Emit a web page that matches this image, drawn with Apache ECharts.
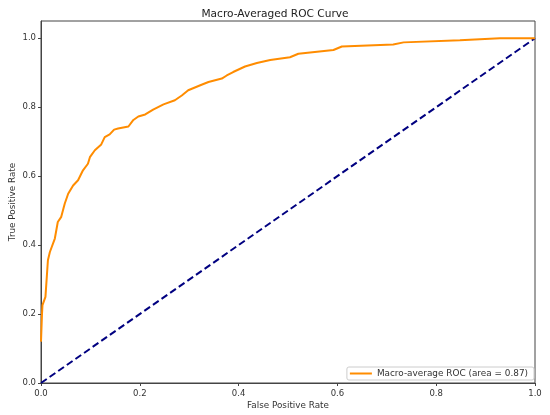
<!DOCTYPE html>
<html>
<head>
<meta charset="utf-8">
<script src="https://cdn.jsdelivr.net/npm/echarts@6/dist/echarts.min.js"></script>
<style>html,body{margin:0;padding:0;background:#fff}#c{width:550px;height:415px}</style>
</head>
<body>
<div id="c"></div>
<script>
var fpr = [0, 0.002, 0.003, 0.009, 0.014, 0.018, 0.028, 0.034, 0.041, 0.048, 0.055, 0.065, 0.075, 0.085, 0.095, 0.099, 0.109, 0.122, 0.129, 0.139, 0.148, 0.156, 0.177, 0.187, 0.197, 0.211, 0.227, 0.248, 0.271, 0.285, 0.298, 0.325, 0.339, 0.366, 0.376, 0.389, 0.413, 0.437, 0.464, 0.504, 0.521, 0.592, 0.609, 0.713, 0.734, 0.848, 0.929, 1.0];
var tpr = [0.12, 0.2, 0.226, 0.25, 0.356, 0.38, 0.419, 0.467, 0.482, 0.52, 0.549, 0.573, 0.588, 0.617, 0.636, 0.655, 0.675, 0.692, 0.713, 0.721, 0.735, 0.738, 0.744, 0.763, 0.773, 0.779, 0.793, 0.808, 0.82, 0.834, 0.849, 0.865, 0.873, 0.883, 0.892, 0.902, 0.918, 0.928, 0.937, 0.945, 0.955, 0.966, 0.976, 0.982, 0.988, 0.994, 1.0, 1.0];
var diagX = [0, 1];
var diagY = [0, 1];
var ticks = [0, 0.2, 0.4, 0.6, 0.8, 1.0];
var titleText = 'Macro-Averaged ROC Curve';
var xName = 'False Positive Rate';
var yName = 'True Positive Rate';
var seriesName = 'Macro-average ROC (area = 0.87)';

function zip(a, b) { return a.map(function (v, i) { return [v, b[i]]; }); }

var font = 'DejaVu Sans';
var textColor = '#333';
var chart = echarts.init(document.getElementById('c'), null, { renderer: 'canvas' });
var axisCommon = {
  type: 'value',
  nameLocation: 'middle',
  nameMoveOverlap: false,
  nameTextStyle: { fontFamily: font, fontSize: 8.8, color: textColor },
  axisLine: { show: true, onZero: false, lineStyle: { color: '#444', width: 1 } },
  axisTick: { show: true, inside: false, length: 3, customValues: ticks, lineStyle: { color: '#444' } },
  axisLabel: { customValues: ticks, fontFamily: font, fontSize: 8.5, color: textColor,
    formatter: function (v) { return v.toFixed(1); } },
  splitLine: { show: false }
};
chart.setOption({
  animation: false,
  backgroundColor: '#fff',
  title: {
    text: titleText, left: 'center', top: 4,
    textStyle: { fontFamily: font, fontSize: 10.6, fontWeight: 'normal', color: '#222' }
  },
  grid: { left: 41, right: 15, top: 21, bottom: 32, show: true, borderColor: '#444', borderWidth: 1,
    containLabel: false, outerBoundsMode: 'none' },
  xAxis: Object.assign({}, axisCommon, {
    min: 0, max: 1, name: xName, nameGap: 18,
    axisLabel: Object.assign({}, axisCommon.axisLabel, { margin: 6 })
  }),
  yAxis: Object.assign({}, axisCommon, {
    min: 0, max: 1.05, name: yName, nameGap: 24,
    axisLabel: Object.assign({}, axisCommon.axisLabel, { margin: 5 })
  }),
  legend: {
    data: [{ name: seriesName, icon: 'rect' }],
    right: 16, bottom: 35,
    itemWidth: 22, itemHeight: 2, itemGap: 6,
    padding: [2, 6, 2, 3],
    borderColor: '#ccc', borderWidth: 1, borderRadius: 2,
    backgroundColor: '#fff',
    textStyle: { fontFamily: font, fontSize: 8.9, color: textColor }
  },
  series: [
    {
      name: 'diag', type: 'line', data: zip(diagX, diagY), showSymbol: false, symbol: 'none',
      lineStyle: { color: '#000080', width: 2, type: [7, 3.5] }, z: 2
    },
    {
      name: seriesName, type: 'line', data: zip(fpr, tpr), showSymbol: false, symbol: 'none',
      color: '#ff8c00', lineStyle: { color: '#ff8c00', width: 2 }, z: 3
    }
  ]
});
</script>
</body>
</html>
